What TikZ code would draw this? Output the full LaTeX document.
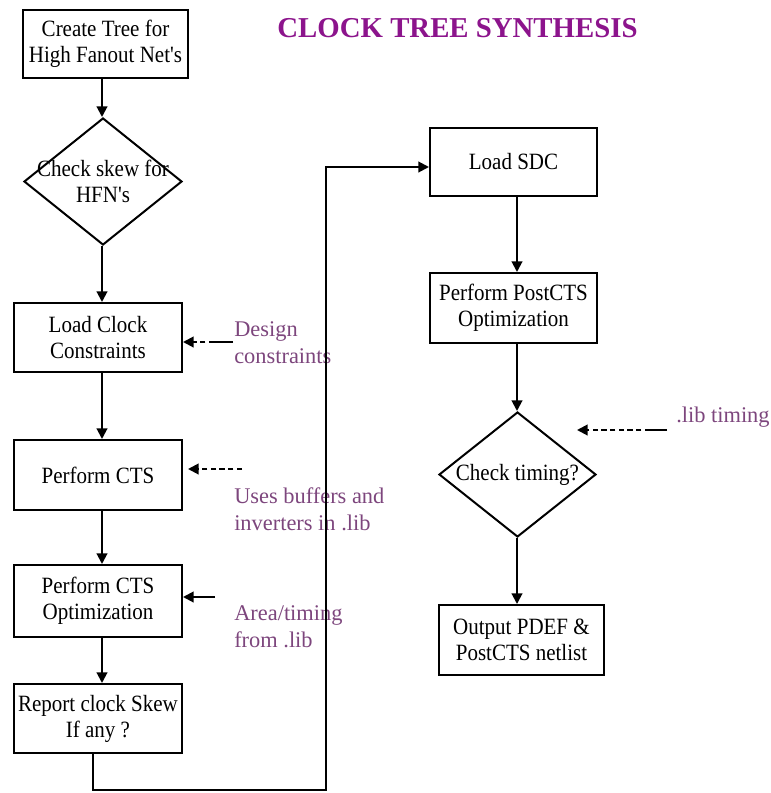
\documentclass[tikz,border=0pt]{standalone}
\usepackage{fontspec}
\setmainfont{Liberation Serif}
\newfontfamily\boxfont[FakeStretch=0.9]{Liberation Serif}
\usetikzlibrary{shapes.geometric,arrows.meta}

\definecolor{titlepurple}{RGB}{140,20,140}
\definecolor{notepurple}{RGB}{125,70,125}

\tikzset{
  stepbox/.style={draw, line width=1.5pt, rectangle, inner sep=0pt, align=center,
    font=\boxfont\fontsize{17.5}{19.5}\selectfont},
  % negative inner sep so that the minimum size alone fixes the diamond
  decision/.style={draw, line width=1.5pt, diamond, inner xsep=-12pt, inner ysep=-6pt,
    align=center, font=\boxfont\fontsize{17.5}{19.5}\selectfont},
  note/.style={anchor=west, inner sep=0pt, align=left, text=notepurple,
    font=\fontsize{16.8}{20.5}\selectfont},
  wire/.style={line width=1.5pt},
  flow/.style={wire, -{Triangle[length=8pt,width=8pt]}},
  hint/.style={flow, dash pattern=on 4pt off 2.5pt},
}

\begin{document}
\begin{tikzpicture}[x=0.75pt, y=-0.75pt]
  \useasboundingbox (0,0) rectangle (771,793);

  % title
  \node[inner sep=0pt, text=titlepurple, font=\bfseries\fontsize{21.6}{24}\selectfont]
    (title) at (457.5,28) {CLOCK TREE SYNTHESIS};

  % left column: clock tree construction
  \node[stepbox, minimum width=123.75pt, minimum height=51pt] (b1) at (105.5,44)
    {Create Tree for\\High Fanout Net's};
  \node[decision, minimum width=118.5pt, minimum height=95.25pt] (d1) at (103,181.5)
    {Check skew for\\HFN's};
  \node[stepbox, minimum width=126pt, minimum height=51.75pt] (b2) at (98,337.5)
    {Load Clock\\Constraints};
  \node[stepbox, minimum width=126pt, minimum height=52.5pt] (b3) at (98,475)
    {Perform CTS};
  \node[stepbox, minimum width=126pt, minimum height=54pt] (b4) at (98,601)
    {Perform CTS\\Optimization};
  \node[stepbox, minimum width=126pt, minimum height=51.75pt] (b5) at (98,718.5)
    {Report clock Skew\\If any ?};

  % right column: post-CTS flow
  \node[stepbox, minimum width=125.25pt, minimum height=51pt] (s1) at (513.5,162)
    {Load SDC};
  \node[stepbox, minimum width=125.25pt, minimum height=52.5pt] (s2) at (513.5,308)
    {Perform PostCTS\\Optimization};
  \node[decision, minimum width=117.75pt, minimum height=93.75pt] (d2) at (517.5,474.5)
    {Check timing?};
  \node[stepbox, minimum width=123.75pt, minimum height=52.5pt] (s3) at (521.5,640)
    {Output PDEF \&\\PostCTS netlist};

  % side inputs
  \node[note] (n1) at (234,343) {Design\\constraints};
  \node[note] (n2) at (234,509) {Uses buffers and\\inverters in .lib};
  \node[note] (n3) at (234,627) {Area/timing\\from .lib};
  \node[note] (n4) at (676,417) {.lib timing};

  % column guides
  \coordinate (lc) at (102,0);
  \coordinate (rc) at (517,0);

  % left column connectors
  \draw[flow] (b1.south -| lc) -- (d1.north -| lc);
  \draw[flow] (d1.south -| lc) -- (b2.north -| lc);
  \draw[flow] (b2.south -| lc) -- (b3.north -| lc);
  \draw[flow] (b3.south -| lc) -- (b4.north -| lc);
  \draw[flow] (b4.south -| lc) -- (b5.north -| lc);

  % loop from skew report to Load SDC
  \coordinate (lp1) at (93,790);
  \coordinate (lp2) at (326,167);
  \draw[flow] (b5.south -| lp1) -- (lp1) -| (lp2) -- (s1.west |- lp2);

  % right column connectors
  \draw[flow] (s1.south -| rc) -- (s2.north -| rc);
  \draw[flow] (s2.south -| rc) -- (d2.north -| rc);
  \draw[flow] (d2.south -| rc) -- (s3.north -| rc);

  % side input arrows (solid tail, dashed run to the tip)
  \coordinate (a1) at (233,342);
  \coordinate (a1m) at (214,342);
  \draw[wire] (a1) -- (a1m);
  \draw[hint] (a1m) -- (b2.east |- a1);
  \coordinate (a2) at (242,469);
  \draw[hint, shorten >=3.75pt] (a2) -- (b3.east |- a2);
  \coordinate (a3) at (215,597);
  \draw[flow] (a3) -- (b4.east |- a3);
  \coordinate (a4s) at (667,430);
  \coordinate (a4m) at (650,430);
  \coordinate (a4e) at (577,430);
  \draw[wire] (a4s) -- (a4m);
  \draw[hint] (a4m) -- (a4e);
\end{tikzpicture}
\end{document}
